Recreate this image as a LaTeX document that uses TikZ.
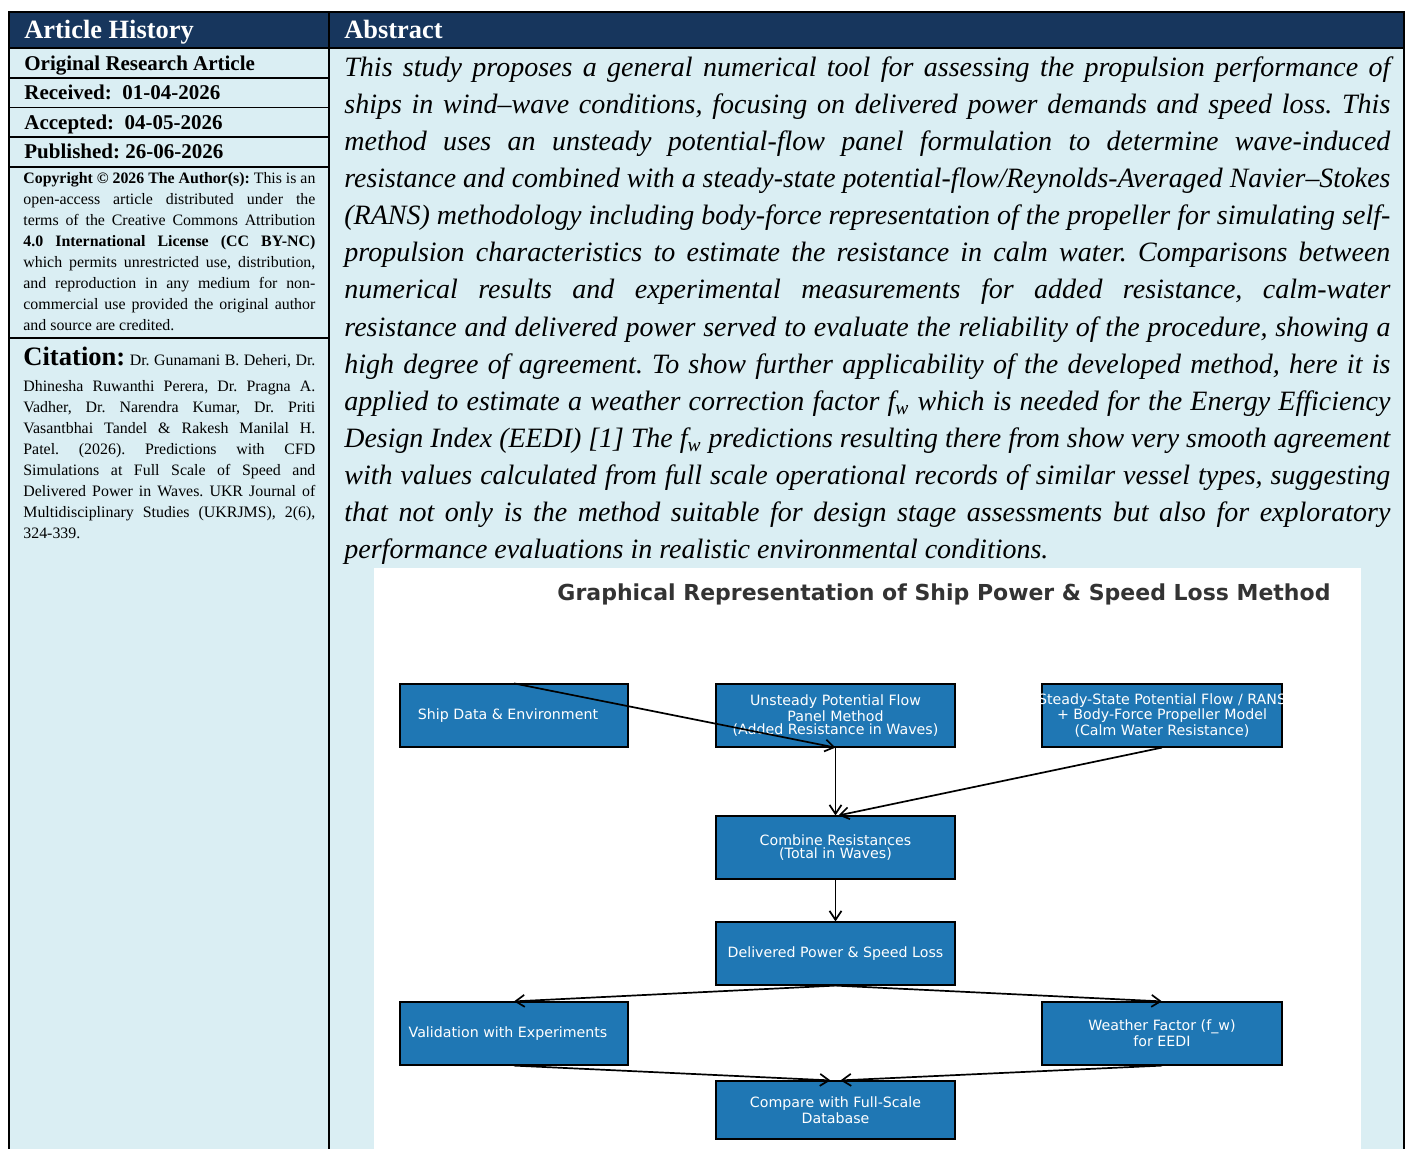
\documentclass[tikz,border=0pt]{standalone}
\usepackage{fontspec}
\usepackage{graphicx}
\setmainfont{Liberation Serif}
\newfontfamily\dejavu{DejaVu Sans}
\usetikzlibrary{arrows.meta}
\definecolor{navy}{HTML}{17365D}
\definecolor{pale}{HTML}{DAEEF3}
\definecolor{mplblue}{HTML}{1F77B4}
\definecolor{titlegray}{HTML}{333333}
\newlength\jlw
\newlength\jtarget
\newcommand\jline[2]{\setlength\jtarget{#1}\settowidth\jlw{#2}%
  \ifdim\jlw>\jtarget\resizebox{\jtarget}{\height}{#2}\else\makebox[\jtarget][s]{#2}\fi}
\newcommand\fw{\textit{f}\textsubscript{\textit{w}}}
\frenchspacing
\begin{document}
\begin{tikzpicture}[x=0.5pt,y=-0.5pt,
  frameline/.style={line width=0.9pt,black},
  hdtext/.style={anchor=base west,inner sep=0,text=white,font=\fontsize{13.2}{15}\selectfont\bfseries},
  rowtext/.style={anchor=base west,inner sep=0,font=\fontsize{10.5}{12}\selectfont\bfseries},
  blocktext/.style={anchor=base west,inner sep=0},
  flowbox/.style={draw=black,line width=0.6pt,fill=mplblue,text=white,inner sep=0,
    minimum height=31.5pt,align=center,font=\dejavu\fontsize{7.1}{6.8}\selectfont},
  flowarrow/.style={-{Straight Barb[length=4.5pt,width=6pt]},line width=0.85pt,black}
]
\useasboundingbox (0,0) rectangle (1410,1149);
\fill[white] (0,0) rectangle (1410,1149);
% backgrounds
\fill[pale] (9,12) rectangle (1404,1149);
\fill[navy] (9,12) rectangle (1404,48);
% frame lines
\draw[frameline] (9,1149) -- (9,12) -- (1404,12) -- (1404,1149);
\draw[frameline] (329,12) -- (329,1149);
\draw[frameline] (9,48) -- (1404,48);
\foreach \yy in {78,107.5,137,167,338} \draw[frameline] (9,\yy) -- (329,\yy);
% headers
\node[hdtext] (h1) at (24,39) {Article History};
\node[hdtext] (h2) at (344,39) {Abstract};
% rows
\node[rowtext] (r1) at (24,71) {Original Research Article};
\node[rowtext] (r2) at (24,100) {Received:\ \ 01-04-2026};
\node[rowtext] (r3) at (24,129.5) {Accepted:\ \ 04-05-2026};
\node[rowtext] (r4) at (24,159) {Published: 26-06-2026};
% copyright
\node[blocktext] (copy) at (23,184) {\parbox[t]{146pt}{\fontsize{7.95}{10.5}\selectfont
\jline{146pt}{\textbf{Copyright © 2026 The Author(s):} This is an}\par
\jline{146pt}{open-access article distributed under the}\par
\jline{146pt}{terms of the Creative Commons Attribution}\par
\jline{146pt}{\textbf{4.0 International License (CC BY-NC)}}\par
\jline{146pt}{which permits unrestricted use, distribution,}\par
\jline{146pt}{and reproduction in any medium for non-}\par
\jline{146pt}{commercial use provided the original author}\par
and source are credited.}};
% citation
\node[blocktext] (cite1) at (23,365.5) {\fontsize{7.95}{10.5}\selectfont\jline{146pt}{{\fontsize{13.3}{13}\selectfont\textbf{Citation:}} Dr. Gunamani B. Deheri, Dr.}};
\node[blocktext] (cite) at (23,391.5) {\parbox[t]{146pt}{\fontsize{7.95}{10.5}\selectfont
\jline{146pt}{Dhinesha Ruwanthi Perera, Dr. Pragna A.}\par
\jline{146pt}{Vadher, Dr. Narendra Kumar, Dr. Priti}\par
\jline{146pt}{Vasantbhai Tandel \& Rakesh Manilal H.}\par
\jline{146pt}{Patel. (2026). Predictions with CFD}\par
\jline{146pt}{Simulations at Full Scale of Speed and}\par
\jline{146pt}{Delivered Power in Waves. UKR Journal of}\par
\jline{146pt}{Multidisciplinary Studies (UKRJMS), 2(6),}\par
324-339.}};
% abstract
\node[blocktext] (abs) at (344,76.5) {\parbox[t]{523pt}{\fontsize{14}{18.54}\selectfont\itshape
\jline{523pt}{This study proposes a general numerical tool for assessing the propulsion performance of}\par
\jline{523pt}{ships in wind–wave conditions, focusing on delivered power demands and speed loss. This}\par
\jline{523pt}{method uses an unsteady potential-flow panel formulation to determine wave-induced}\par
\jline{523pt}{resistance and combined with a steady-state potential-flow/Reynolds-Averaged Navier–Stokes}\par
\jline{523pt}{(RANS) methodology including body-force representation of the propeller for simulating self-}\par
\jline{523pt}{propulsion characteristics to estimate the resistance in calm water. Comparisons between}\par
\jline{523pt}{numerical results and experimental measurements for added resistance, calm-water}\par
\jline{523pt}{resistance and delivered power served to evaluate the reliability of the procedure, showing a}\par
\jline{523pt}{high degree of agreement. To show further applicability of the developed method, here it is}\par
\jline{523pt}{applied to estimate a weather correction factor \fw{} which is needed for the Energy Efficiency}\par
\jline{523pt}{Design Index (EEDI) [1] The \fw{} predictions resulting there from show very smooth agreement}\par
\jline{523pt}{with values calculated from full scale operational records of similar vessel types, suggesting}\par
\jline{523pt}{that not only is the method suitable for design stage assessments but also for exploratory}\par
performance evaluations in realistic environmental conditions.}};
% diagram panel
\fill[white] (374,568) rectangle (1361,1149);
\node[anchor=base,inner sep=0,text=titlegray,font=\dejavu\bfseries\fontsize{11}{12}\selectfont] (title) at (944,601) {Graphical Representation of Ship Power \& Speed Loss Method};
\node[flowbox,minimum width=114pt] (ship) at (514,715.5) {\hspace*{-6pt}Ship Data \& Environment};
\node[flowbox,minimum width=119.5pt] (uns) at (835.5,715.5) {Unsteady Potential Flow\\Panel Method\\(Added Resistance in Waves)};
\node[flowbox,minimum width=120pt] (ste) at (1162,715.5) {\makebox[0pt]{Steady-State Potential Flow / RANS}\\\makebox[0pt]{+ Body-Force Propeller Model}\\\makebox[0pt]{(Calm Water Resistance)}};
\node[flowbox,minimum width=119.5pt] (comb) at (835.5,847.5) {Combine Resistances\\(Total in Waves)};
\node[flowbox,minimum width=119.5pt] (deliv) at (835.5,953.5) {Delivered Power \& Speed Loss};
\node[flowbox,minimum width=114pt] (valid) at (514,1033.5) {\hspace*{-6pt}Validation with Experiments};
\node[flowbox,minimum width=120pt] (weath) at (1162,1033.5) {Weather Factor (f\_w)\\for EEDI};
\node[flowbox,minimum width=119.5pt,minimum height=29pt] (comp) at (835.5,1110) {Compare with Full-Scale\\Database};
% connectors
\draw[flowarrow] (ship.north) -- (uns.south);
\draw[flowarrow] (uns.south) -- (comb.north);
\draw[flowarrow] (ste.south) -- ([xshift=1.5pt]comb.north);
\draw[flowarrow] (comb.south) -- (deliv.north);
\draw[flowarrow] (deliv.south) -- (valid.north);
\draw[flowarrow] (deliv.south) -- (weath.north);
\draw[flowarrow] (valid.south) -- ([xshift=-2.5pt]comp.north);
\draw[flowarrow] (weath.south) -- ([xshift=2.5pt]comp.north);
\end{tikzpicture}
\end{document}
